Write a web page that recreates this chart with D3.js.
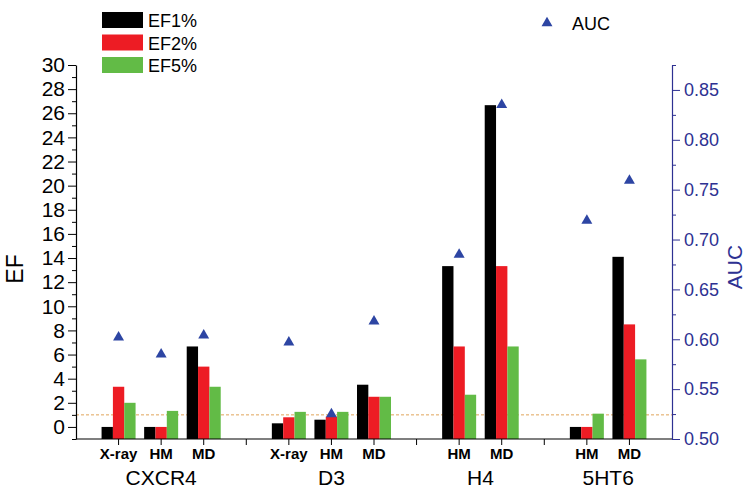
<!DOCTYPE html>
<html>
<head>
<meta charset="utf-8">
<script src="https://cdn.jsdelivr.net/npm/d3@7"></script>
<style>
  body { margin: 0; background: #fff; }
  svg { font-family: "Liberation Sans", Arial, sans-serif; }
</style>
</head>
<body>
<script>
// data
var groups = ["CXCR4", "D3", "H4", "5HT6"];
var methods = [["X-ray", "HM", "MD"], ["X-ray", "HM", "MD"], ["HM", "MD"], ["HM", "MD"]];
var series = ["EF1%", "EF2%", "EF5%"];
var ef1 = [0, 0, 6.67, 0.3, 0.6, 3.5, 13.33, 26.67, 0, 14.1];
var ef2 = [3.33, 0, 5, 0.8, 0.85, 2.5, 6.67, 13.33, 0, 8.5];
var ef5 = [2, 1.33, 3.33, 1.25, 1.25, 2.5, 2.67, 6.67, 1.1, 5.6];
var auc = [0.602, 0.585, 0.604, 0.597, 0.525, 0.618, 0.685, 0.835, 0.719, 0.759];
var efTicks = d3.range(0, 31, 2);
var aucTicks = [0.50, 0.55, 0.60, 0.65, 0.70, 0.75, 0.80, 0.85];
var refLine = 1;

var width = 746, height = 488;
var colors = ["#000000", "#ed1c24", "#62bb46"];
var blue = "#2e3192";
var triBlue = "#2d45a3";

var svg = d3.select("body").append("svg")
  .attr("width", width)
  .attr("height", height);

// x slots: a gap slot between groups, category slots inside
var slots = ["|0"];
var cats = [];
groups.forEach(function(g, gi) {
  methods[gi].forEach(function(m) {
    slots.push(g + "|" + m);
    cats.push({group: g, method: m, key: g + "|" + m});
  });
  slots.push("|" + (gi + 1));
});
cats.forEach(function(c, i) {
  c.vals = [ef1[i], ef2[i], ef5[i]];
  c.auc = auc[i];
});

var x = d3.scalePoint().domain(slots).range([76, 672]);
var sub = d3.scaleBand().domain(series).range([-17, 17]);
var yL = d3.scaleLinear().domain([-1, 30]).range([439, 65]);
var yR = d3.scaleLinear().domain([0.5, 0.875]).range([439, 65]);

// dashed reference line at EF = 1
svg.append("line")
  .attr("x1", 76).attr("x2", 672)
  .attr("y1", yL(refLine)).attr("y2", yL(refLine))
  .attr("stroke", "#e0a45a")
  .attr("stroke-width", 1)
  .attr("stroke-dasharray", "3,2");

// bars
var cg = svg.selectAll(".cat")
  .data(cats)
  .enter().append("g")
  .attr("class", "cat")
  .attr("transform", function(d) { return "translate(" + x(d.key) + ",0)"; });

cg.selectAll("rect")
  .data(function(d) { return d.vals.map(function(v, i) { return {s: series[i], v: v, i: i}; }); })
  .enter().append("rect")
  .attr("x", function(d) { return sub(d.s); })
  .attr("width", sub.bandwidth())
  .attr("y", function(d) { return yL(d.v); })
  .attr("height", function(d) { return yL(-1) - yL(d.v); })
  .attr("fill", function(d) { return colors[d.i]; });

// AUC triangles
var tri = d3.symbol().type(d3.symbolTriangle).size(52);
svg.selectAll(".auc")
  .data(cats)
  .enter().append("path")
  .attr("class", "auc")
  .attr("d", tri)
  .attr("fill", triBlue)
  .attr("transform", function(d) { return "translate(" + x(d.key) + "," + yR(d.auc) + ")"; });

// left axis
var gl = svg.append("g")
  .attr("transform", "translate(76,0)")
  .call(d3.axisLeft(yL).tickValues(efTicks).tickSize(8).tickSizeOuter(0).tickPadding(3));
gl.selectAll("text").style("font-size", "21px").attr("fill", "#000");
gl.select(".domain").attr("stroke-width", 1.2);
svg.append("g")
  .attr("transform", "translate(76,0)")
  .call(d3.axisLeft(yL).tickValues(d3.range(-1, 30, 2)).tickSize(4).tickFormat(""))
  .select(".domain").remove();

// right axis
var gr = svg.append("g")
  .attr("transform", "translate(672,0)")
  .call(d3.axisRight(yR).tickValues(aucTicks).tickFormat(d3.format(".2f")).tickSize(8).tickSizeOuter(0).tickPadding(4));
gr.selectAll("text").style("font-size", "18px").attr("fill", blue);
gr.selectAll("line").attr("stroke", blue);
gr.select(".domain").attr("stroke", blue).attr("stroke-width", 1.2);
svg.append("g")
  .attr("transform", "translate(672,0)")
  .call(d3.axisRight(yR).tickValues(aucTicks.map(function(t) { return t + 0.025; })).tickSize(4).tickFormat(""))
  .call(function(g) { g.select(".domain").remove(); g.selectAll("line").attr("stroke", blue); });

// bottom axis
var gb = svg.append("g")
  .attr("transform", "translate(0," + yL(-1) + ")");
gb.append("line")
  .attr("x1", 76).attr("x2", 672)
  .attr("stroke", "#000").attr("stroke-width", 1.2);
gb.selectAll(".tk")
  .data(slots.slice(1, -1))
  .enter().append("line")
  .attr("x1", function(d) { return x(d); })
  .attr("x2", function(d) { return x(d); })
  .attr("y2", 6)
  .attr("stroke", "#000");
gb.selectAll(".cl")
  .data(cats)
  .enter().append("text")
  .attr("x", function(d) { return x(d.key); })
  .attr("y", 20)
  .attr("text-anchor", "middle")
  .style("font-size", "15px")
  .style("font-weight", "bold")
  .text(function(d) { return d.method; });
gb.selectAll(".gl")
  .data(groups)
  .enter().append("text")
  .attr("x", function(g) {
    return d3.mean(cats.filter(function(c) { return c.group === g; }), function(c) { return x(c.key); });
  })
  .attr("y", 46)
  .attr("text-anchor", "middle")
  .style("font-size", "21px")
  .text(function(g) { return g; });

// axis titles
svg.append("text")
  .attr("transform", "translate(23,269) rotate(-90)")
  .attr("text-anchor", "middle")
  .style("font-size", "23px")
  .text("EF");
svg.append("text")
  .attr("transform", "translate(742,267) rotate(-90)")
  .attr("text-anchor", "middle")
  .style("font-size", "21px")
  .attr("fill", blue)
  .text("AUC");

// legend
var lg = svg.append("g").attr("transform", "translate(102,12)");
series.forEach(function(s, i) {
  lg.append("rect")
    .attr("x", 0).attr("y", i * 22.5)
    .attr("width", 41).attr("height", 16)
    .attr("fill", colors[i]);
  lg.append("text")
    .attr("x", 46).attr("y", i * 22.5 + 15)
    .style("font-size", "18px")
    .text(s);
});
svg.append("path")
  .attr("d", tri)
  .attr("fill", triBlue)
  .attr("transform", "translate(547,23)");
svg.append("text")
  .attr("x", 572).attr("y", 30)
  .style("font-size", "18px")
  .text("AUC");
</script>
</body>
</html>
